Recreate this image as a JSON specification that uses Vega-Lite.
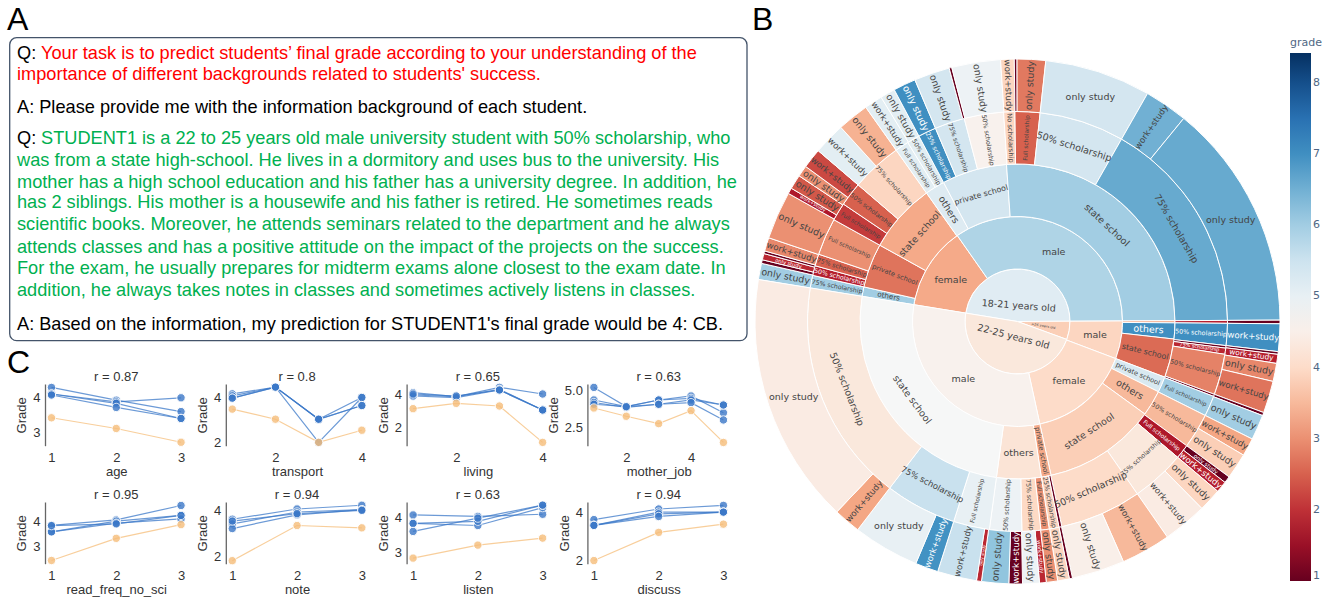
{"$schema":"https://vega.github.io/schema/vega-lite/v6.json","padding":0,"background":"white","bounds":"flush","spacing":755,"resolve":{"scale":{"color":"independent"}},
"config":{"view":{"stroke":null},"font":"Liberation Sans","axis":{"grid":false,"ticks":false,"labelFont":"Liberation Sans","titleFont":"Liberation Sans","labelFontSize":13,"titleFontSize":13,"titleFontWeight":"normal","labelColor":"#333","titleColor":"#333"},"axisX":{"domain":false,"labelPadding":6,"titlePadding":1},"axisY":{"domainColor":"#666","domainWidth":1.3,"labelPadding":5,"titlePadding":4},"title":{"font":"Liberation Sans","fontSize":13,"fontWeight":"normal","color":"#333","offset":-3}},
"datasets":{
"txt":[
{"x":17,"y":59,"k":"q","t":"Q:"},{"x":41,"y":59,"k":"r","t":"Your task is to predict students’ final grade according to your understanding of the"},
{"x":17,"y":80,"k":"r","t":"importance of different backgrounds related to students' success."},
{"x":17,"y":113,"k":"q","t":"A: Please provide me with the information background of each student."},
{"x":17,"y":144,"k":"q","t":"Q:"},{"x":41,"y":144,"k":"g","t":"STUDENT1 is a 22 to 25 years old male university student with 50% scholarship, who"},
{"x":17,"y":166,"k":"g","t":"was from a state high-school. He lives in a dormitory and uses bus to the university. His"},
{"x":17,"y":187.5,"k":"g","t":"mother has a high school education and his father has a university degree. In addition, he"},
{"x":17,"y":208,"k":"g","t":"has 2 siblings. His mother is a housewife and his father is retired. He sometimes reads"},
{"x":17,"y":230,"k":"g","t":"scientific books. Moreover, he attends seminars related to the department and he always"},
{"x":17,"y":253,"k":"g","t":"attends classes and has a positive attitude on the impact of the projects on the success."},
{"x":17,"y":274,"k":"g","t":"For the exam, he usually prepares for midterm exams alone closest to the exam date. In"},
{"x":17,"y":296,"k":"g","t":"addition, he always takes notes in classes and sometimes actively listens in classes."},
{"x":17,"y":330,"k":"q","t":"A: Based on the information, my prediction for STUDENT1's final grade would be 4: CB."}],
"c":[
{"p":"age","x":1,"s":"a","g":4.3},{"p":"age","x":2,"s":"a","g":3.93},{"p":"age","x":3,"s":"a","g":3.6},
{"p":"age","x":1,"s":"b","g":4.11},{"p":"age","x":2,"s":"b","g":3.88},{"p":"age","x":3,"s":"b","g":4.0},
{"p":"age","x":1,"s":"c","g":4.11},{"p":"age","x":2,"s":"c","g":3.84},{"p":"age","x":3,"s":"c","g":3.4},
{"p":"age","x":1,"s":"d","g":4.08},{"p":"age","x":2,"s":"d","g":3.72},{"p":"age","x":3,"s":"d","g":3.4},
{"p":"age","x":1,"s":"o","g":3.42},{"p":"age","x":2,"s":"o","g":3.11},{"p":"age","x":3,"s":"o","g":2.71},
{"p":"transport","x":1,"s":"a","g":4.16},{"p":"transport","x":2,"s":"a","g":4.46},{"p":"transport","x":3,"s":"a","g":3.03},{"p":"transport","x":4,"s":"a","g":4.0},
{"p":"transport","x":1,"s":"b","g":4.07},{"p":"transport","x":2,"s":"b","g":4.46},{"p":"transport","x":3,"s":"b","g":2.0},{"p":"transport","x":4,"s":"b","g":4.0},
{"p":"transport","x":1,"s":"c","g":3.97},{"p":"transport","x":2,"s":"c","g":4.46},{"p":"transport","x":3,"s":"c","g":3.03},{"p":"transport","x":4,"s":"c","g":3.64},
{"p":"transport","x":1,"s":"d","g":3.97},{"p":"transport","x":2,"s":"d","g":4.46},{"p":"transport","x":3,"s":"d","g":3.03},{"p":"transport","x":4,"s":"d","g":3.64},
{"p":"transport","x":1,"s":"o","g":3.48},{"p":"transport","x":2,"s":"o","g":3.03},{"p":"transport","x":3,"s":"o","g":2.0},{"p":"transport","x":4,"s":"o","g":2.54},
{"p":"living","x":1,"s":"a","g":4.08},{"p":"living","x":2,"s":"a","g":3.84},{"p":"living","x":3,"s":"a","g":4.4},{"p":"living","x":4,"s":"a","g":4.0},
{"p":"living","x":1,"s":"b","g":3.94},{"p":"living","x":2,"s":"b","g":3.84},{"p":"living","x":3,"s":"b","g":4.28},{"p":"living","x":4,"s":"b","g":3.04},
{"p":"living","x":1,"s":"c","g":3.88},{"p":"living","x":2,"s":"c","g":3.78},{"p":"living","x":3,"s":"c","g":4.24},{"p":"living","x":4,"s":"c","g":3.04},
{"p":"living","x":1,"s":"d","g":4.0},{"p":"living","x":2,"s":"d","g":3.88},{"p":"living","x":3,"s":"d","g":4.24},{"p":"living","x":4,"s":"d","g":3.04},
{"p":"living","x":1,"s":"o","g":3.12},{"p":"living","x":2,"s":"o","g":3.44},{"p":"living","x":3,"s":"o","g":3.28},{"p":"living","x":4,"s":"o","g":1.1},
{"p":"mother_job","x":1,"s":"a","g":5.22},{"p":"mother_job","x":2,"s":"a","g":3.92},{"p":"mother_job","x":3,"s":"a","g":4.37},{"p":"mother_job","x":4,"s":"a","g":4.64},{"p":"mother_job","x":5,"s":"a","g":3.51},
{"p":"mother_job","x":1,"s":"b","g":4.37},{"p":"mother_job","x":2,"s":"b","g":3.92},{"p":"mother_job","x":3,"s":"b","g":4.37},{"p":"mother_job","x":4,"s":"b","g":4.48},{"p":"mother_job","x":5,"s":"b","g":4.03},
{"p":"mother_job","x":1,"s":"c","g":4.2},{"p":"mother_job","x":2,"s":"c","g":3.87},{"p":"mother_job","x":3,"s":"c","g":4.08},{"p":"mother_job","x":4,"s":"c","g":4.37},{"p":"mother_job","x":5,"s":"c","g":4.03},
{"p":"mother_job","x":1,"s":"d","g":4.08},{"p":"mother_job","x":2,"s":"d","g":3.92},{"p":"mother_job","x":3,"s":"d","g":4.08},{"p":"mother_job","x":4,"s":"d","g":4.19},{"p":"mother_job","x":5,"s":"d","g":3.02},
{"p":"mother_job","x":1,"s":"o","g":3.83},{"p":"mother_job","x":2,"s":"o","g":3.27},{"p":"mother_job","x":3,"s":"o","g":2.77},{"p":"mother_job","x":4,"s":"o","g":3.65},{"p":"mother_job","x":5,"s":"o","g":1.5},
{"p":"read_freq_no_sci","x":1,"s":"a","g":3.86},{"p":"read_freq_no_sci","x":2,"s":"a","g":4.08},{"p":"read_freq_no_sci","x":3,"s":"a","g":4.66},
{"p":"read_freq_no_sci","x":1,"s":"b","g":3.6},{"p":"read_freq_no_sci","x":2,"s":"b","g":4.03},{"p":"read_freq_no_sci","x":3,"s":"b","g":4.26},
{"p":"read_freq_no_sci","x":1,"s":"c","g":3.6},{"p":"read_freq_no_sci","x":2,"s":"c","g":3.95},{"p":"read_freq_no_sci","x":3,"s":"c","g":4.12},
{"p":"read_freq_no_sci","x":1,"s":"d","g":3.85},{"p":"read_freq_no_sci","x":2,"s":"d","g":3.92},{"p":"read_freq_no_sci","x":3,"s":"d","g":4.26},
{"p":"read_freq_no_sci","x":1,"s":"o","g":2.45},{"p":"read_freq_no_sci","x":2,"s":"o","g":3.34},{"p":"read_freq_no_sci","x":3,"s":"o","g":3.89},
{"p":"note","x":1,"s":"a","g":3.62},{"p":"note","x":2,"s":"a","g":4.06},{"p":"note","x":3,"s":"a","g":4.22},
{"p":"note","x":1,"s":"b","g":3.42},{"p":"note","x":2,"s":"b","g":3.93},{"p":"note","x":3,"s":"b","g":4.03},
{"p":"note","x":1,"s":"c","g":3.22},{"p":"note","x":2,"s":"c","g":3.81},{"p":"note","x":3,"s":"c","g":4.03},
{"p":"note","x":1,"s":"d","g":3.54},{"p":"note","x":2,"s":"d","g":3.86},{"p":"note","x":3,"s":"d","g":4.0},
{"p":"note","x":1,"s":"o","g":1.84},{"p":"note","x":2,"s":"o","g":3.35},{"p":"note","x":3,"s":"o","g":3.25},
{"p":"listen","x":1,"s":"a","g":4.07},{"p":"listen","x":2,"s":"a","g":4.03},{"p":"listen","x":3,"s":"a","g":4.09},
{"p":"listen","x":1,"s":"b","g":3.83},{"p":"listen","x":2,"s":"b","g":3.77},{"p":"listen","x":3,"s":"b","g":4.28},
{"p":"listen","x":1,"s":"c","g":3.83},{"p":"listen","x":2,"s":"c","g":3.89},{"p":"listen","x":3,"s":"c","g":4.35},
{"p":"listen","x":1,"s":"d","g":3.6},{"p":"listen","x":2,"s":"d","g":3.98},{"p":"listen","x":3,"s":"d","g":4.35},
{"p":"listen","x":1,"s":"o","g":2.84},{"p":"listen","x":2,"s":"o","g":3.21},{"p":"listen","x":3,"s":"o","g":3.41},
{"p":"discuss","x":1,"s":"a","g":3.69},{"p":"discuss","x":2,"s":"a","g":4.13},{"p":"discuss","x":3,"s":"a","g":4.28},
{"p":"discuss","x":1,"s":"b","g":3.45},{"p":"discuss","x":2,"s":"b","g":4.0},{"p":"discuss","x":3,"s":"b","g":4.0},
{"p":"discuss","x":1,"s":"c","g":3.45},{"p":"discuss","x":2,"s":"c","g":3.93},{"p":"discuss","x":3,"s":"c","g":4.0},
{"p":"discuss","x":1,"s":"d","g":3.45},{"p":"discuss","x":2,"s":"d","g":3.82},{"p":"discuss","x":3,"s":"d","g":4.0},
{"p":"discuss","x":1,"s":"o","g":1.99},{"p":"discuss","x":2,"s":"o","g":3.16},{"p":"discuss","x":3,"s":"o","g":3.5}],
"sun":[
{"n":"18-21 years old","d":1,"a":279.2,"b":449.7,"g":5.15,"o":"t"},{"n":">26 years old","d":1,"a":89.7,"b":110,"g":3.8,"o":"r"},{"n":"22-25 years old","d":1,"a":110,"b":279.2,"g":4.3,"o":"t"},
{"n":"female","d":2,"a":279.2,"b":325,"g":3.3,"o":"h"},{"n":"male","d":2,"a":325,"b":449.7,"g":5.85,"o":"h"},{"n":"male","d":2,"a":89.7,"b":110.7,"g":3.9,"o":"h"},{"n":"female","d":2,"a":110.7,"b":167.7,"g":4.0,"o":"h"},{"n":"male","d":2,"a":167.7,"b":279.2,"g":4.55,"o":"h"},
{"n":"others","d":3,"a":279.2,"b":282.7,"g":6.0,"o":"r"},{"n":"private school","d":3,"a":282.7,"b":299,"g":2.7,"o":"r"},{"n":"state school","d":3,"a":299,"b":324.7,"g":3.3,"o":"t"},{"n":"others","d":3,"a":324.7,"b":332,"g":5.2,"o":"r"},{"n":"private school","d":3,"a":332,"b":356,"g":5.4,"o":"t"},{"n":"state school","d":3,"a":356,"b":449.7,"g":6.0,"o":"t"},{"n":"private school","d":3,"a":89.7,"b":90.5,"g":3.2,"o":"r"},{"n":"others","d":3,"a":90.5,"b":96.4,"g":7.0,"o":"r"},{"n":"state school","d":3,"a":96.4,"b":110.7,"g":2.6,"o":"r"},{"n":"private school","d":3,"a":110.7,"b":116.5,"g":5.3,"o":"r"},{"n":"others","d":3,"a":116.5,"b":126,"g":3.5,"o":"r"},{"n":"state school","d":3,"a":126,"b":167.7,"g":3.8,"o":"t"},{"n":"private school","d":3,"a":167.7,"b":171.3,"g":3.3,"o":"r"},{"n":"others","d":3,"a":171.3,"b":187.7,"g":4.2,"o":"h"},{"n":"state school","d":3,"a":187.7,"b":279.2,"g":4.72,"o":"t"},
{"n":"75% scholarship","d":4,"a":279.2,"b":282.7,"g":6.0,"o":"r"},{"n":"50% scholarship","d":4,"a":282.7,"b":285.4,"g":1.8,"o":"r"},{"n":"75% scholarship","d":4,"a":285.4,"b":288.7,"g":2.5,"o":"r"},{"n":"Full scholarship","d":4,"a":288.7,"b":299,"g":3.0,"o":"r"},{"n":"Full scholarship","d":4,"a":299,"b":304,"g":2.1,"o":"r"},{"n":"50% scholarship","d":4,"a":304,"b":310.6,"g":2.5,"o":"r"},{"n":"75% scholarship","d":4,"a":310.6,"b":324.7,"g":3.9,"o":"r"},{"n":"Full scholarship","d":4,"a":324.7,"b":328.5,"g":5.1,"o":"r"},{"n":"50% scholarship","d":4,"a":328.5,"b":332,"g":5.1,"o":"r"},{"n":"25% scholarship","d":4,"a":332,"b":337,"g":7.0,"o":"r"},{"n":"75% scholarship","d":4,"a":337,"b":345.3,"g":5.4,"o":"r"},{"n":"50% scholarship","d":4,"a":345.3,"b":356.2,"g":4.55,"o":"r"},{"n":"No scholarship","d":4,"a":356.2,"b":359.3,"g":3.9,"o":"r"},{"n":"Full scholarship","d":4,"a":359.3,"b":366.2,"g":2.5,"o":"r"},{"n":"50% scholarship","d":4,"a":6.2,"b":29.7,"g":5.4,"o":"t"},{"n":"75% scholarship","d":4,"a":29.7,"b":89.7,"g":6.6,"o":"t"},{"n":"75% scholarship","d":4,"a":89.7,"b":90.5,"g":1.8,"o":"r"},{"n":"50% scholarship","d":4,"a":90.5,"b":96.6,"g":7.0,"o":"r"},{"n":"No scholarship","d":4,"a":96.6,"b":97.3,"g":1.0,"o":"r"},{"n":"75% scholarship","d":4,"a":97.3,"b":99,"g":1.9,"o":"r"},{"n":"50% scholarship","d":4,"a":99,"b":110.3,"g":2.85,"o":"r"},{"n":"75% scholarship","d":4,"a":110.3,"b":110.9,"g":1.0,"o":"r"},{"n":"Full scholarship","d":4,"a":110.9,"b":116.6,"g":6.0,"o":"r"},{"n":"50% scholarship","d":4,"a":116.6,"b":126.3,"g":3.5,"o":"r"},{"n":"Full scholarship","d":4,"a":126.3,"b":130.3,"g":1.7,"o":"r"},{"n":"75% scholarship","d":4,"a":130.3,"b":145.2,"g":4.3,"o":"t"},{"n":"50% scholarship","d":4,"a":145.2,"b":167.8,"g":4.0,"o":"t"},{"n":"Full scholarship","d":4,"a":167.8,"b":168.6,"g":1.0,"o":"r"},{"n":"25% scholarship","d":4,"a":168.6,"b":171.3,"g":3.9,"o":"r"},{"n":"Full scholarship","d":4,"a":171.3,"b":173.6,"g":3.0,"o":"r"},{"n":"75% scholarship","d":4,"a":173.6,"b":178.8,"g":3.95,"o":"r"},{"n":"50% scholarship","d":4,"a":178.8,"b":187.7,"g":4.9,"o":"r"},{"n":"Full scholarship","d":4,"a":187.7,"b":197.7,"g":5.0,"o":"r"},{"n":"75% scholarship","d":4,"a":197.7,"b":217.5,"g":5.55,"o":"t"},{"n":"50% scholarship","d":4,"a":217.5,"b":279.2,"g":4.3,"o":"t"},
{"n":"only study","d":5,"a":279.2,"b":282.8,"g":6.0,"o":"r"},{"n":"work+study","d":5,"a":282.8,"b":283.6,"g":1.0,"o":"r"},{"n":"only study","d":5,"a":283.6,"b":285,"g":1.9,"o":"r"},{"n":"work+study","d":5,"a":285,"b":285.6,"g":1.0,"o":"r"},{"n":"work+study","d":5,"a":285.6,"b":288.6,"g":2.9,"o":"r"},{"n":"only study","d":5,"a":288.6,"b":299.2,"g":3.0,"o":"r"},{"n":"work+study","d":5,"a":299.2,"b":300.5,"g":1.7,"o":"r"},{"n":"only study","d":5,"a":300.5,"b":303.7,"g":2.4,"o":"r"},{"n":"only study","d":5,"a":303.7,"b":306.2,"g":3.0,"o":"r"},{"n":"work+study","d":5,"a":306.2,"b":310.6,"g":2.25,"o":"r"},{"n":"work+study","d":5,"a":310.6,"b":317.7,"g":5.1,"o":"r"},{"n":"only study","d":5,"a":317.7,"b":324.7,"g":3.4,"o":"r"},{"n":"work+study","d":5,"a":324.7,"b":328.7,"g":5.1,"o":"r"},{"n":"only study","d":5,"a":328.7,"b":332,"g":5.1,"o":"r"},{"n":"only study","d":5,"a":332,"b":337,"g":7.0,"o":"r"},{"n":"only study","d":5,"a":337,"b":344.9,"g":5.4,"o":"r"},{"n":"work+study","d":5,"a":344.9,"b":345.5,"g":1.0,"o":"r"},{"n":"only study","d":5,"a":345.5,"b":356.3,"g":4.9,"o":"r"},{"n":"work+study","d":5,"a":356.3,"b":359.3,"g":3.9,"o":"r"},{"n":"work+study","d":5,"a":359.3,"b":359.9,"g":1.0,"o":"r"},{"n":"only study","d":5,"a":359.9,"b":366.2,"g":2.75,"o":"r"},{"n":"only study","d":5,"a":6.2,"b":29.7,"g":5.4,"o":"h"},{"n":"work+study","d":5,"a":29.7,"b":39.3,"g":6.5,"o":"r"},{"n":"only study","d":5,"a":39.3,"b":89.7,"g":6.6,"o":"h"},{"n":"only study","d":5,"a":89.7,"b":90.5,"g":1.0,"o":"r"},{"n":"work+study","d":5,"a":90.5,"b":96.6,"g":7.0,"o":"r"},{"n":"work+study","d":5,"a":96.6,"b":97.2,"g":1.0,"o":"r"},{"n":"work+study","d":5,"a":97.2,"b":99.2,"g":1.8,"o":"r"},{"n":"only study","d":5,"a":99.2,"b":103.2,"g":2.9,"o":"r"},{"n":"work+study","d":5,"a":103.2,"b":110.3,"g":2.7,"o":"r"},{"n":"work+study","d":5,"a":110.3,"b":111,"g":1.0,"o":"r"},{"n":"only study","d":5,"a":111,"b":116.6,"g":6.0,"o":"r"},{"n":"work+study","d":5,"a":116.6,"b":120.6,"g":3.25,"o":"r"},{"n":"only study","d":5,"a":120.6,"b":126.3,"g":3.8,"o":"r"},{"n":"only study","d":5,"a":126.3,"b":127.8,"g":1.0,"o":"r"},{"n":"work+study","d":5,"a":127.8,"b":130.3,"g":1.8,"o":"r"},{"n":"only study","d":5,"a":130.3,"b":135.4,"g":3.9,"o":"r"},{"n":"work+study","d":5,"a":135.4,"b":145.2,"g":4.4,"o":"r"},{"n":"work+study","d":5,"a":145.2,"b":156.2,"g":3.5,"o":"r"},{"n":"only study","d":5,"a":156.2,"b":167.9,"g":4.5,"o":"r"},{"n":"work+study","d":5,"a":167.9,"b":168.6,"g":1.0,"o":"r"},{"n":"only study","d":5,"a":168.6,"b":171.2,"g":3.9,"o":"r"},{"n":"only study","d":5,"a":171.2,"b":173.7,"g":3.0,"o":"r"},{"n":"work+study","d":5,"a":173.7,"b":175.2,"g":1.9,"o":"r"},{"n":"only study","d":5,"a":175.2,"b":178.9,"g":4.9,"o":"r"},{"n":"work+study","d":5,"a":178.9,"b":181.9,"g":1.0,"o":"r"},{"n":"only study","d":5,"a":181.9,"b":187.9,"g":6.2,"o":"r"},{"n":"only study","d":5,"a":187.9,"b":189,"g":1.9,"o":"r"},{"n":"work+study","d":5,"a":189,"b":197.7,"g":5.55,"o":"r"},{"n":"work+study","d":5,"a":197.7,"b":202.8,"g":6.95,"o":"r"},{"n":"only study","d":5,"a":202.8,"b":217.5,"g":5.0,"o":"h"},{"n":"work+study","d":5,"a":217.5,"b":223.5,"g":3.25,"o":"r"},{"n":"only study","d":5,"a":223.5,"b":279.2,"g":4.4,"o":"h"}]},
"hconcat":[
{"resolve":{"scale":{"color":"independent"}},"vconcat":[
{"width":755,"height":350,"layer":[
{"data":{"values":[{"x0":9.7,"x1":747,"y0":37.7,"y1":340.7}]},"mark":{"type":"rect","fill":"white","stroke":"#44546a","strokeWidth":1.3,"cornerRadius":7},"encoding":{"x":{"field":"x0","type":"quantitative","scale":{"domain":[0,755],"nice":false},"axis":null},"x2":{"field":"x1"},"y":{"field":"y0","type":"quantitative","scale":{"domain":[0,350],"range":[0,350],"nice":false},"axis":null},"y2":{"field":"y1"}}},
{"data":{"name":"txt"},"mark":{"type":"text","align":"left","baseline":"alphabetic","fontSize":18.2,"font":"Liberation Sans"},"encoding":{"x":{"field":"x","type":"quantitative","scale":{"domain":[0,755],"nice":false}},"y":{"field":"y","type":"quantitative","scale":{"domain":[0,350],"range":[0,350],"nice":false}},"text":{"field":"t"},"color":{"field":"k","type":"nominal","scale":{"domain":["q","r","g"],"range":["#000000","#ff0000","#00b050"]},"legend":null}}},
{"data":{"values":[{"x":7,"y":30,"t":"A"}]},"mark":{"type":"text","align":"left","baseline":"alphabetic","fontSize":32,"font":"Liberation Sans","color":"#000"},"encoding":{"x":{"field":"x","type":"quantitative","scale":{"domain":[0,755],"nice":false}},"y":{"field":"y","type":"quantitative","scale":{"domain":[0,350],"range":[0,350],"nice":false}},"text":{"field":"t"}}}]},
{"resolve":{"scale":{"color":"independent"}},"hconcat":[
{"width":10,"height":20,"data":{"values":[{"x":7,"y":-11,"t":"C"}]},"mark":{"type":"text","align":"left","baseline":"alphabetic","fontSize":32,"font":"Liberation Sans","color":"#000"},"encoding":{"x":{"field":"x","type":"quantitative","scale":{"domain":[0,10]},"axis":null},"y":{"field":"y","type":"quantitative","scale":{"domain":[0,20],"range":[0,20]},"axis":null},"text":{"field":"t"}}},
{"columns":4,"bounds":"flush","spacing":{"row":56,"column":37.8},"concat":[
{"title":"r = 0.87","width":142.5,"height":61.7,"data":{"name":"c"},"transform":[{"filter":"datum.p=='age'"}],"encoding":{"x":{"field":"x","type":"quantitative","scale":{"domain":[0.9,3.1]},"axis":{"values":[1,2,3],"title":"age","format":"d"}},"y":{"field":"g","type":"quantitative","scale":{"domain":[2.61,4.4]},"axis":{"values":[3,4],"title":"Grade"}},"color":{"field":"s","type":"nominal","scale":{"domain":["a","b","c","d","o"],"range":["#3b78c8","#3b78c8","#3b78c8","#3b78c8","#f6bd7a"]},"legend":null}},"layer":[{"mark":{"type":"line","strokeWidth":1.2,"opacity":0.75}},{"mark":{"type":"circle","size":70,"opacity":0.8,"stroke":"white","strokeWidth":1}}]},
{"title":"r = 0.8","width":142.5,"height":61.7,"data":{"name":"c"},"transform":[{"filter":"datum.p=='transport'"}],"encoding":{"x":{"field":"x","type":"quantitative","scale":{"domain":[0.85,4.15]},"axis":{"values":[2,4],"title":"transport","format":"d"}},"y":{"field":"g","type":"quantitative","scale":{"domain":[1.85,4.6]},"axis":{"values":[2,4],"title":"Grade"}},"color":{"field":"s","type":"nominal","scale":{"domain":["a","b","c","d","o"],"range":["#3b78c8","#3b78c8","#3b78c8","#3b78c8","#f6bd7a"]},"legend":null}},"layer":[{"mark":{"type":"line","strokeWidth":1.2,"opacity":0.75}},{"mark":{"type":"circle","size":70,"opacity":0.8,"stroke":"white","strokeWidth":1}}]},
{"title":"r = 0.65","width":142.5,"height":61.7,"data":{"name":"c"},"transform":[{"filter":"datum.p=='living'"}],"encoding":{"x":{"field":"x","type":"quantitative","scale":{"domain":[0.85,4.15]},"axis":{"values":[2,4],"title":"living","format":"d"}},"y":{"field":"g","type":"quantitative","scale":{"domain":[0.9,4.6]},"axis":{"values":[2,4],"title":"Grade"}},"color":{"field":"s","type":"nominal","scale":{"domain":["a","b","c","d","o"],"range":["#3b78c8","#3b78c8","#3b78c8","#3b78c8","#f6bd7a"]},"legend":null}},"layer":[{"mark":{"type":"line","strokeWidth":1.2,"opacity":0.75}},{"mark":{"type":"circle","size":70,"opacity":0.8,"stroke":"white","strokeWidth":1}}]},
{"title":"r = 0.63","width":142.5,"height":61.7,"data":{"name":"c"},"transform":[{"filter":"datum.p=='mother_job'"}],"encoding":{"x":{"field":"x","type":"quantitative","scale":{"domain":[0.8,5.2]},"axis":{"values":[2,4],"title":"mother_job","format":"d"}},"y":{"field":"g","type":"quantitative","scale":{"domain":[1.28,5.45]},"axis":{"values":[2.5,5],"title":"Grade","format":".1f"}},"color":{"field":"s","type":"nominal","scale":{"domain":["a","b","c","d","o"],"range":["#3b78c8","#3b78c8","#3b78c8","#3b78c8","#f6bd7a"]},"legend":null}},"layer":[{"mark":{"type":"line","strokeWidth":1.2,"opacity":0.75}},{"mark":{"type":"circle","size":70,"opacity":0.8,"stroke":"white","strokeWidth":1}}]},
{"title":"r = 0.95","width":142.5,"height":61.7,"data":{"name":"c"},"transform":[{"filter":"datum.p=='read_freq_no_sci'"}],"encoding":{"x":{"field":"x","type":"quantitative","scale":{"domain":[0.9,3.1]},"axis":{"values":[1,2,3],"title":"read_freq_no_sci","format":"d"}},"y":{"field":"g","type":"quantitative","scale":{"domain":[2.32,4.8]},"axis":{"values":[3,4],"title":"Grade"}},"color":{"field":"s","type":"nominal","scale":{"domain":["a","b","c","d","o"],"range":["#3b78c8","#3b78c8","#3b78c8","#3b78c8","#f6bd7a"]},"legend":null}},"layer":[{"mark":{"type":"line","strokeWidth":1.2,"opacity":0.75}},{"mark":{"type":"circle","size":70,"opacity":0.8,"stroke":"white","strokeWidth":1}}]},
{"title":"r = 0.94","width":142.5,"height":61.7,"data":{"name":"c"},"transform":[{"filter":"datum.p=='note'"}],"encoding":{"x":{"field":"x","type":"quantitative","scale":{"domain":[0.9,3.1]},"axis":{"values":[1,2,3],"title":"note","format":"d"}},"y":{"field":"g","type":"quantitative","scale":{"domain":[1.71,4.36]},"axis":{"values":[2,4],"title":"Grade"}},"color":{"field":"s","type":"nominal","scale":{"domain":["a","b","c","d","o"],"range":["#3b78c8","#3b78c8","#3b78c8","#3b78c8","#f6bd7a"]},"legend":null}},"layer":[{"mark":{"type":"line","strokeWidth":1.2,"opacity":0.75}},{"mark":{"type":"circle","size":70,"opacity":0.8,"stroke":"white","strokeWidth":1}}]},
{"title":"r = 0.63","width":142.5,"height":61.7,"data":{"name":"c"},"transform":[{"filter":"datum.p=='listen'"}],"encoding":{"x":{"field":"x","type":"quantitative","scale":{"domain":[0.9,3.1]},"axis":{"values":[1,2,3],"title":"listen","format":"d"}},"y":{"field":"g","type":"quantitative","scale":{"domain":[2.68,4.44]},"axis":{"values":[3,4],"title":"Grade"}},"color":{"field":"s","type":"nominal","scale":{"domain":["a","b","c","d","o"],"range":["#3b78c8","#3b78c8","#3b78c8","#3b78c8","#f6bd7a"]},"legend":null}},"layer":[{"mark":{"type":"line","strokeWidth":1.2,"opacity":0.75}},{"mark":{"type":"circle","size":70,"opacity":0.8,"stroke":"white","strokeWidth":1}}]},
{"title":"r = 0.94","width":142.5,"height":61.7,"data":{"name":"c"},"transform":[{"filter":"datum.p=='discuss'"}],"encoding":{"x":{"field":"x","type":"quantitative","scale":{"domain":[0.9,3.1]},"axis":{"values":[1,2,3],"title":"discuss","format":"d"}},"y":{"field":"g","type":"quantitative","scale":{"domain":[1.86,4.42]},"axis":{"values":[2,4],"title":"Grade"}},"color":{"field":"s","type":"nominal","scale":{"domain":["a","b","c","d","o"],"range":["#3b78c8","#3b78c8","#3b78c8","#3b78c8","#f6bd7a"]},"legend":null}},"layer":[{"mark":{"type":"line","strokeWidth":1.2,"opacity":0.75}},{"mark":{"type":"circle","size":70,"opacity":0.8,"stroke":"white","strokeWidth":1}}]}
]}],"spacing":35,"bounds":"flush"}],"spacing":34,"bounds":"flush"},
{"vconcat":[
{"width":525,"height":59,"data":{"values":[{"x":-3,"y":30,"t":"B"}]},"mark":{"type":"text","align":"left","baseline":"alphabetic","fontSize":32,"font":"Liberation Sans","color":"#000"},"encoding":{"x":{"field":"x","type":"quantitative","scale":{"domain":[0,525]},"axis":null},"y":{"field":"y","type":"quantitative","scale":{"domain":[0,59],"range":[0,59]},"axis":null},"text":{"field":"t"}}},
{"width":525,"height":525,"data":{"name":"sun"},"transform":[
{"calculate":"datum.d-1","as":"r0"},{"calculate":"datum.d*1","as":"r1"},{"calculate":"(datum.a+datum.b)/2","as":"m"},
{"calculate":"datum.d==1&&datum.b-datum.a>100?0.3:datum.d-0.5","as":"rm"},
{"calculate":"(datum.d-0.5)*52.5*(datum.b-datum.a)*PI/180","as":"th"},
{"calculate":"datum.n=='work+study'?6.03:length(datum.n)*0.55","as":"em"},
{"calculate":"datum.o=='h'?9.5:datum.o=='t'?min(9.5,datum.th*1.1/datum.em):min(9.5,(datum.d==1?25:52)/datum.em,datum.th*0.9)","as":"fs"},
{"calculate":"datum.o=='h'?0:datum.o=='t'?((datum.m%360>=270||datum.m%360<90)?datum.m:datum.m-180):(datum.m%360<180?datum.m-90:datum.m+90)","as":"ang"},
{"calculate":"datum.fs<3?'':datum.n","as":"lbl"},
{"calculate":"(datum.g>6.8||datum.g<2.05)?'#ffffff':'#444444'","as":"tc"}],
"layer":[
{"mark":{"type":"arc","stroke":"#ffffff","strokeWidth":1},"encoding":{"theta":{"field":"a","type":"quantitative","stack":null,"scale":{"domain":[0,360],"range":[0,6.283185]}},"theta2":{"field":"b"},"radius":{"field":"r0","type":"quantitative","scale":{"type":"linear","domain":[0,5],"range":[0,262.5]}},"radius2":{"field":"r1"},"color":{"field":"g","type":"quantitative","scale":{"type":"linear","interpolate":"rgb","domain":[1,1.742,2.484,3.226,3.968,4.71,5.452,6.194,6.936,7.678,8.42],"range":["#67001f","#b2182b","#d6604d","#f4a582","#fddbc7","#f7f7f7","#d1e5f0","#92c5de","#4393c3","#2166ac","#053061"]},"legend":{"title":"grade","orient":"none","legendX":535,"legendY":37,"gradientLength":528,"gradientThickness":21,"values":[1,2,3,4,5,6,7,8],"labelColor":"#506784","titleColor":"#506784","labelFont":"DejaVu Sans","titleFont":"DejaVu Sans","labelFontSize":11,"titleFontSize":11,"titleFontWeight":"normal","labelOverlap":false}}}},
{"mark":{"type":"text","font":"DejaVu Sans","align":"center","baseline":"middle"},"encoding":{"theta":{"field":"m","type":"quantitative","stack":null,"scale":{"domain":[0,360],"range":[0,6.283185]}},"radius":{"field":"rm","type":"quantitative","scale":{"type":"linear","domain":[0,5],"range":[0,262.5]}},"text":{"field":"lbl"},"size":{"field":"fs","type":"quantitative","scale":null},"angle":{"field":"ang","type":"quantitative","scale":null},"fill":{"field":"tc","type":"nominal","scale":null}}}
]}
],"spacing":0,"bounds":"flush"}
]}
